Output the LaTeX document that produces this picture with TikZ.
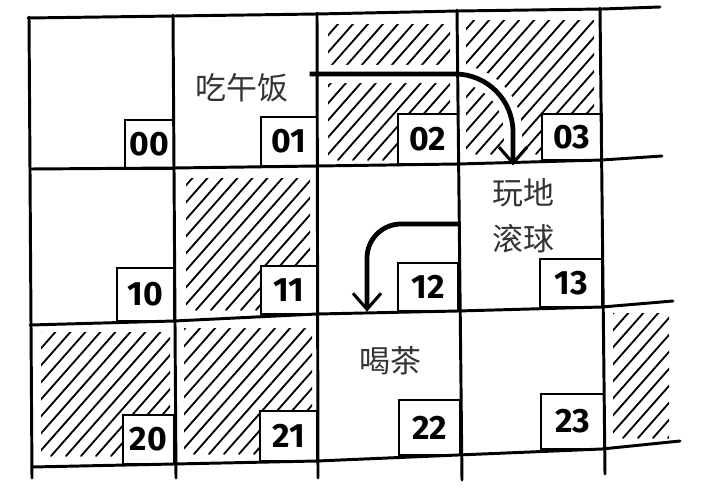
\documentclass[tikz,border=0pt]{standalone}
\usepackage{fontspec}
\setsansfont{Fira Sans}
\newfontfamily\cjk{Noto Sans CJK SC}
\usetikzlibrary{arrows.meta,calc}

\newcommand{\hatchcell}[4]{%
  \begin{scope}
    \clip (#1,#2) rectangle (#3,#4);
    \foreach \k in {-170,-155,...,150}
      \draw[hatch] (#1+\k,#4) -- ++(150,-170);
  \end{scope}}

\begin{document}
\begin{tikzpicture}[x=0.025cm, y=-0.025cm,
    gridline/.style={line width=2.1pt, line cap=round, line join=round},
    numbox/.style={draw, fill=white, line width=1.8pt, anchor=south east, outer sep=0pt, inner sep=0pt,
      font=\sffamily\bfseries\fontsize{24}{24}\selectfont},
    hatch/.style={line width=1.3pt, line cap=round},
    cjktext/.style={font=\cjk\fontsize{22}{33}\selectfont, text=black!80, align=center, inner sep=2pt},
    flow/.style={line width=3.4pt, -{Straight Barb[length=4mm,width=7mm,line width=2.2pt]}},
    halo/.style={white, line width=13pt}]
    \useasboundingbox (0,0) rectangle (703,493);

    % shaded cells
    \hatchcell{328}{24}{450}{160}
    \hatchcell{466}{20}{594}{154}
    \hatchcell{186}{178}{310}{310}
    \hatchcell{41}{332}{170}{456}
    \hatchcell{184}{328}{312}{454}
    \hatchcell{613}{313}{669}{438}

    \node[cjktext] (lunch) at (242,88) {吃午饭};
    \node[cjktext] (bowl) at (523,216) {玩地\\滚球};
    \node[cjktext] (tea) at (390,361) {喝茶};

    \coordinate (a1) at ($(lunch.east)+(18,-14)$);
    \coordinate (b1) at ($(bowl.north)+(-10,-10)$);
    \coordinate (a2) at ($(bowl.west)+(-28,8)$);
    \coordinate (b2) at ($(tea.north)+(-23,-32)$);
    \draw[halo, rounded corners=1.45cm] (a1) -| (b1);
    \draw[halo, rounded corners=0.85cm] (a2) -| (b2);

    \foreach \x/\y/\w/\h/\n in {174/169/49/49/00, 317/166/56/49/01, 458/164/60/50/02, 602/160/60/46/03,
        174/321/57/53/10, 317/314/56/48/11, 458/311/60/48/12, 602/307/62/48/13,
        174/464/51/49/20, 317/461/57/50/21, 460/455/61/55/22, 604/449/63/55/23}
      \node[numbox, minimum width=\w*0.25mm, minimum height=\h*0.25mm] (n\n) at (\x,\y) {\n};

    % grid
    \draw[gridline] (28,18) -- (174,16) -- (317,14) -- (458,11) -- (602,9) -- (660,7);
    \draw[gridline] (30,169) -- (174,168) -- (317,166) -- (458,164) -- (602,160) -- (662,156);
    \draw[gridline] (30,325) -- (174,321) -- (317,314) -- (458,311) -- (602,307) -- (673,301);
    \draw[gridline] (32,467) -- (174,464) -- (317,461) -- (458,455) -- (602,449) -- (680,441);
    \draw[gridline] (29,17) -- (32,478);
    \draw[gridline] (173,15) -- (176,478);
    \draw[gridline] (317,13) -- (318,478);
    \draw[gridline] (457,10) -- (462,480);
    \draw[gridline] (600,8) -- (605,474);

    \draw[flow, rounded corners=1.45cm] (a1) -| (b1);
    \draw[flow, rounded corners=0.85cm] (a2) -| (b2);
\end{tikzpicture}
\end{document}
